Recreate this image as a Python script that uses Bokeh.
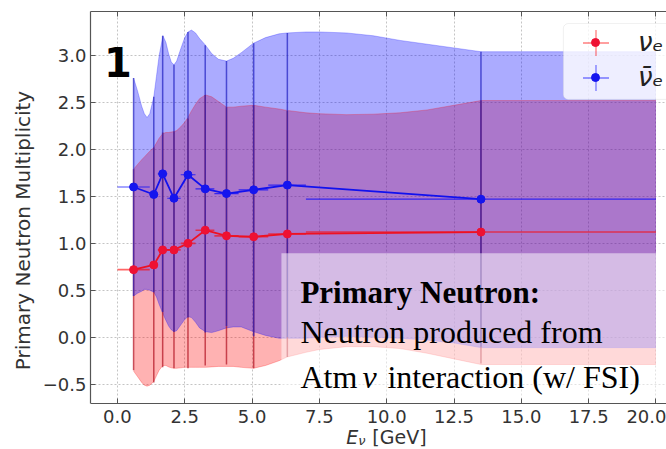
import numpy as np
from bokeh.plotting import figure
from bokeh.models import (ColumnDataSource, Legend, LegendItem, BoxAnnotation, Label,
                          LinearAxis, FixedTicker, CustomJSTickFormatter, Range1d, Grid)
from bokeh.embed import file_html
from bokeh.resources import INLINE

# ---------------- data ----------------
E_center = [0.6, 1.35, 1.68, 2.1, 2.62, 3.26, 4.05, 5.06, 6.31, 13.5]
E_edges = [0.0, 1.2, 1.5, 1.85, 2.35, 2.9, 3.6, 4.5, 5.6, 7.0, 20.0]

nue_mult = [0.72, 0.77, 0.93, 0.93, 1.00, 1.14, 1.08, 1.07, 1.10, 1.12]
nue_err = [1.07, 1.25, 1.25, 1.26, 1.33, 1.44, 1.37, 1.40, 1.31, 1.40]
nuebar_mult = [1.60, 1.52, 1.74, 1.48, 1.73, 1.58, 1.53, 1.57, 1.62, 1.47]
nuebar_err = [1.16, 1.04, 1.47, 1.42, 1.52, 1.53, 1.41, 1.56, 1.62, 1.57]

band_E = [0.6, 0.75, 0.9, 1.0, 1.1, 1.2, 1.35, 1.45, 1.55, 1.69,
          1.8, 1.9, 2.0, 2.1, 2.2, 2.35, 2.5, 2.62, 2.75, 2.9,
          3.05, 3.27, 3.5, 3.75, 4.05, 4.3, 4.6, 5.05, 5.5, 6.0,
          6.3, 7.0, 7.5, 8.5, 9.5, 10.5, 11.5, 12.5, 13.5, 20.0]
nuebar_band_hi = [2.76, 2.62, 2.46, 2.38, 2.34, 2.38, 2.56, 2.78, 3.00, 3.21,
                  3.14, 3.02, 2.93, 2.90, 2.94, 3.07, 3.19, 3.25, 3.27, 3.24,
                  3.18, 3.11, 3.02, 2.96, 2.94, 2.97, 3.03, 3.13, 3.19, 3.23,
                  3.24, 3.25, 3.25, 3.24, 3.21, 3.16, 3.12, 3.08, 3.04, 3.04]
nuebar_band_lo = [0.44, 0.47, 0.49, 0.51, 0.51, 0.50, 0.48, 0.43, 0.35, 0.25,
                  0.18, 0.12, 0.08, 0.06, 0.07, 0.13, 0.19, 0.22, 0.21, 0.16,
                  0.10, 0.06, 0.05, 0.07, 0.10, 0.11, 0.11, 0.06, 0.02, -0.01,
                  -0.01, -0.01, 0.0, 0.01, 0.0, -0.01, -0.03, -0.06, -0.11, -0.11]
nue_band_hi = [1.79, 1.84, 1.89, 1.92, 1.95, 1.98, 2.02, 2.07, 2.12, 2.17,
               2.18, 2.18, 2.185, 2.19, 2.20, 2.24, 2.29, 2.34, 2.41, 2.48,
               2.54, 2.58, 2.56, 2.51, 2.45, 2.45, 2.46, 2.47, 2.45, 2.43,
               2.415, 2.39, 2.38, 2.37, 2.375, 2.39, 2.42, 2.47, 2.52, 2.52]
nue_band_lo = [-0.36, -0.42, -0.48, -0.51, -0.52, -0.51, -0.47, -0.41, -0.35, -0.30,
               -0.30, -0.315, -0.325, -0.33, -0.33, -0.325, -0.32, -0.32, -0.32, -0.32,
               -0.32, -0.32, -0.315, -0.31, -0.31, -0.31, -0.32, -0.33, -0.30, -0.25,
               -0.21, -0.16, -0.13, -0.10, -0.10, -0.12, -0.17, -0.23, -0.29, -0.29]

x_ticks = [0.0, 2.5, 5.0, 7.5, 10.0, 12.5, 15.0, 17.5, 20.0]
y_ticks = [-0.5, 0.0, 0.5, 1.0, 1.5, 2.0, 2.5, 3.0]

legend_labels = ["\u03bd\u2091", "\u03bd\u0304\u2091"]
y_label = "Primary Neutron Multiplicity"
x_label_parts = ["E", "\u03bd", "[GeV]"]
box_lines = ["Primary Neutron:", "Neutron produced from", "Atm", "\u03bd", "interaction (w/ FSI)"]

# ---------------- figure ----------------
Y_AXIS_AT = -0.705   # where the x axis (bottom spine) sits
Y_TOP = 3.468
p = figure(width=666, height=449, x_range=Range1d(-1.0, 20.39), y_range=Range1d(-1.1945, Y_TOP),
           output_backend="svg", toolbar_location=None,
           min_border_left=90, min_border_right=0, min_border_top=11, min_border_bottom=0)
p.outline_line_color = None

TICK_FONT = "DejaVu Sans"
TXT = "#333333"
AX = "#555555"

xa = p.xaxis[0]
xa.fixed_location = Y_AXIS_AT
xa.ticker = FixedTicker(ticks=x_ticks)
xa.formatter = CustomJSTickFormatter(code="return tick.toFixed(1);")
ya = p.yaxis[0]
ya.ticker = FixedTicker(ticks=y_ticks)
ya.formatter = CustomJSTickFormatter(code="return tick.toFixed(1).replace('-', '\u2212');")
ya.bounds = (Y_AXIS_AT, Y_TOP)
for ax in (xa, ya):
    ax.major_tick_in = 5
    ax.major_tick_out = 0
    ax.minor_tick_in = 0
    ax.minor_tick_out = 0
    ax.major_tick_line_color = AX
    ax.axis_line_color = AX
    ax.axis_line_width = 1.2
    ax.major_label_text_font = TICK_FONT
    ax.major_label_text_font_size = "18px"
    ax.major_label_text_color = TXT
xa.major_label_standoff = 6
ya.major_label_standoff = 4
ya.axis_label = y_label
ya.axis_label_text_font = TICK_FONT
ya.axis_label_text_font_size = "20px"
ya.axis_label_text_font_style = "normal"
ya.axis_label_text_color = TXT
ya.axis_label_standoff = 5

top = LinearAxis(ticker=FixedTicker(ticks=x_ticks),
                 formatter=CustomJSTickFormatter(code="return '';"),
                 major_tick_in=5, major_tick_out=0, minor_tick_in=0, minor_tick_out=0,
                 major_label_text_font_size="0px", major_label_standoff=0,
                 axis_line_color=AX, axis_line_width=1.2, major_tick_line_color=AX)
p.add_layout(top, "above")

GRID_COLOR = "#c4c4c4"
for g, t in ((p.xgrid, x_ticks), (p.ygrid, y_ticks)):
    g.ticker = FixedTicker(ticks=t)
    g.grid_line_color = GRID_COLOR
    g.grid_line_dash = "2 2"
    g.grid_line_width = 1
if "cross_bounds" in Grid.properties():
    p.xgrid.cross_bounds = (Y_AXIS_AT, Y_TOP)
else:
    p.xgrid.visible = False
    p.segment(x0=x_ticks, y0=[Y_AXIS_AT] * len(x_ticks), x1=x_ticks, y1=[Y_TOP] * len(x_ticks),
              line_color=GRID_COLOR, line_dash="2 2", line_width=1, level="underlay")

# ---------------- sources ----------------
ne = np.array(nue_mult); nee = np.array(nue_err)
nb = np.array(nuebar_mult); nbe = np.array(nuebar_err)
src = ColumnDataSource(dict(
    x=E_center, x0=E_edges[:-1], x1=E_edges[1:],
    nue=nue_mult, nue_lo=ne - nee, nue_hi=ne + nee,
    nb=nuebar_mult, nb_lo=nb - nbe, nb_hi=nb + nbe))

# bands
p.varea(x=band_E, y1=nue_band_lo, y2=nue_band_hi, fill_color="#ff0000", fill_alpha=0.30)
p.varea(x=band_E, y1=nuebar_band_lo, y2=nuebar_band_hi, fill_color="#0000ff", fill_alpha=0.33)
for arr, c in ((nue_band_lo, "#ff0000"), (nue_band_hi, "#ff0000"),
               (nuebar_band_lo, "#0000ff"), (nuebar_band_hi, "#0000ff")):
    p.line(band_E, arr, line_color=c, line_alpha=0.25, line_width=1)

# vertical error bars
p.segment(x0="x", y0="nue_lo", x1="x", y1="nue_hi", source=src,
          line_color="#b01020", line_alpha=0.7, line_width=1.5)
p.segment(x0="x", y0="nb_lo", x1="x", y1="nb_hi", source=src,
          line_color="#2020c0", line_alpha=0.7, line_width=1.5)
# horizontal error bars
p.segment(x0="x0", y0="nue", x1="x1", y1="nue", source=src,
          line_color="#ff0000", line_alpha=0.6, line_width=1.6)
p.segment(x0="x0", y0="nb", x1="x1", y1="nb", source=src,
          line_color="#0000ff", line_alpha=0.7, line_width=1.2)
# connecting lines and markers
p.line("x", "nue", source=src, line_color="#ee1122", line_width=1.8)
p.line("x", "nb", source=src, line_color="#1111ee", line_width=1.8)
r_dot = p.scatter("x", "nue", source=src, size=8, fill_color="#ee1133", line_color="#ee1133")
b_dot = p.scatter("x", "nb", source=src, size=8, fill_color="#1515ee", line_color="#1515ee")
# legend-only cross symbols (size 0 in the plot)
r_cross = p.scatter("x", "nue", source=src, marker="cross", size=0,
                    line_color="#ff0000", line_alpha=0.5, line_width=1.3)
b_cross = p.scatter("x", "nb", source=src, marker="cross", size=0,
                    line_color="#0000ff", line_alpha=0.5, line_width=1.3)

# ---------------- annotations ----------------
text_box = BoxAnnotation(left=6.09, right=22, top=0.894, bottom=-0.65,
                         fill_color="white", fill_alpha=0.5, line_color=None)
p.add_layout(text_box)

leg_box = BoxAnnotation(left=16.56, right=22, top=3.34, bottom=2.532,
                        fill_color="white", fill_alpha=0.8, line_color="#cccccc",
                        line_width=1, border_radius=5)
p.add_layout(leg_box)

def cross_legend(renderer, loc):
    return Legend(items=[LegendItem(label=" ", renderers=[renderer])],
                  location=loc, glyph_width=65, glyph_height=65,
                  label_height=20, label_standoff=0, label_text_font_size="2px",
                  spacing=0, padding=0, margin=0,
                  background_fill_alpha=0, border_line_color=None)

p.add_layout(cross_legend(r_cross, (472.5, 374.5)))
p.add_layout(cross_legend(b_cross, (472.5, 339.5)))

legB = Legend(items=[LegendItem(label=legend_labels[0], renderers=[r_dot]),
                     LegendItem(label=legend_labels[1], renderers=[b_dot])],
              location=(495, 357), glyph_width=20, glyph_height=30,
              label_height=30, label_standoff=33, spacing=5, padding=0, margin=0,
              label_text_font="DejaVu Sans", label_text_font_style="italic",
              label_text_font_size="26px", label_text_color="#222222",
              background_fill_alpha=0, border_line_color=None)
p.add_layout(legB)

SERIF = "Liberation Serif"
p.add_layout(Label(x=6.795, y=0.479, text=box_lines[0], text_font=SERIF,
                   text_font_style="bold", text_font_size="31px",
                   text_baseline="alphabetic", text_color="black"))
p.add_layout(Label(x=6.795, y=0.053, text=box_lines[1], text_font=SERIF,
                   text_font_size="32px", text_baseline="alphabetic", text_color="black"))
p.add_layout(Label(x=6.795, y=-0.426, text=box_lines[2], text_font=SERIF,
                   text_font_size="32px", text_baseline="alphabetic", text_color="black"))
p.add_layout(Label(x=6.795, y=-0.426, x_offset=62, text=box_lines[3], text_font=SERIF,
                   text_font_style="italic", text_font_size="32px",
                   text_baseline="alphabetic", text_color="black"))
p.add_layout(Label(x=6.795, y=-0.426, x_offset=87, text=box_lines[4], text_font=SERIF,
                   text_font_size="32px", text_baseline="alphabetic", text_color="black"))

p.add_layout(Label(x=-0.50, y=2.929, text="1", text_font="DejaVu Sans",
                   text_font_style="bold", text_font_size="40px",
                   text_baseline="alphabetic", text_color="black"))

# x-axis label: E_nu [GeV]  (below the bottom spine, inside the canvas)
XL_X, XL_Y = 8.50, -1.066
p.add_layout(Label(x=XL_X, y=XL_Y, text=x_label_parts[0], text_font=TICK_FONT,
                   text_font_style="italic", text_font_size="19px",
                   text_baseline="alphabetic", text_color=TXT))
p.add_layout(Label(x=XL_X, y=XL_Y, x_offset=12, y_offset=-3, text=x_label_parts[1],
                   text_font=TICK_FONT, text_font_style="italic", text_font_size="13px",
                   text_baseline="alphabetic", text_color=TXT))
p.add_layout(Label(x=XL_X, y=XL_Y, x_offset=26, text=x_label_parts[2], text_font=TICK_FONT,
                   text_font_size="19px", text_baseline="alphabetic", text_color=TXT))

with open("out.html", "w", encoding="utf-8") as f:
    f.write(file_html(p, INLINE))
